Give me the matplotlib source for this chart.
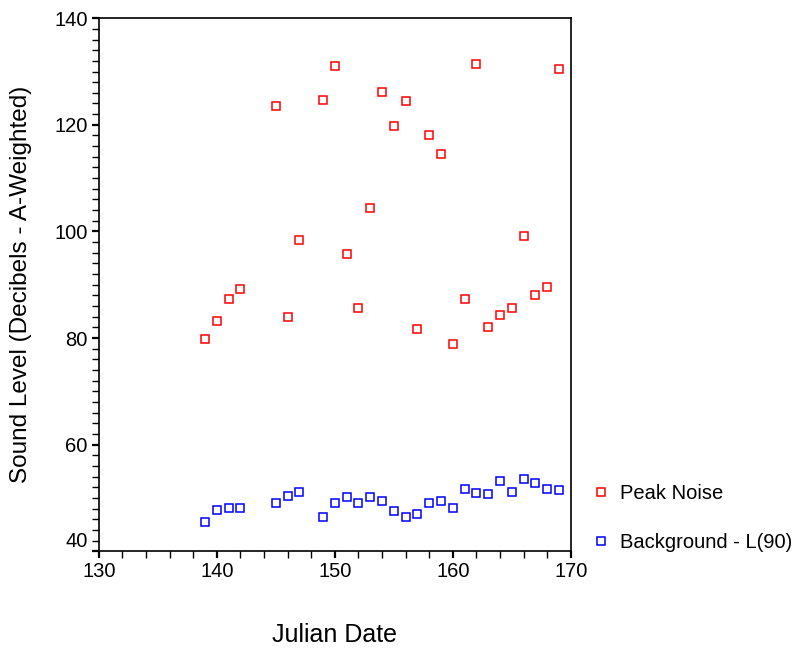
import matplotlib
matplotlib.use("Agg")
import matplotlib.pyplot as plt
from matplotlib.ticker import MultipleLocator, FuncFormatter
from matplotlib.transforms import ScaledTranslation

plt.rcParams['font.family'] = ['Liberation Sans', 'DejaVu Sans']

# Julian date of each measurement
peak_days = [139, 140, 141, 142, 145, 146, 147, 149, 150, 151, 152, 153, 154, 155,
             156, 157, 158, 159, 160, 161, 162, 163, 164, 165, 166, 167, 168, 169]
peak_db = [79.8, 83.2, 87.3, 89.2, 123.5, 84.0, 98.4, 124.6, 131.1, 95.7, 85.6, 104.3, 126.2, 119.7,
           124.4, 81.7, 118.1, 114.5, 78.8, 87.3, 131.4, 82.1, 84.3, 85.6, 99.1, 88.1, 89.5, 130.4]

bg_days = peak_days
bg_db = [45.4, 47.8, 48.1, 48.1, 49.1, 50.4, 51.2, 46.5, 49.1, 50.1, 49.1, 50.1, 49.4, 47.6,
         46.5, 47.0, 49.1, 49.4, 48.1, 51.7, 50.9, 50.7, 53.2, 51.2, 53.5, 52.8, 51.7, 51.4]

y_min, y_max = 40, 140

fig = plt.figure(figsize=(8.04, 6.5), dpi=100)
ax = fig.add_axes([0.123, 0.152, 0.587, 0.820])

mk = dict(linestyle='none', marker='s', markersize=5.5, markerfacecolor='none', markeredgewidth=1.1)
ax.plot(peak_days, peak_db, color='#ff0000', label='Peak Noise', **mk)
ax.plot(bg_days, bg_db, color='#0000ff', label='Background - L(90)', **mk)

ax.set_xlim(130, 170)
ax.set_ylim(y_min, y_max)
ax.xaxis.set_major_locator(MultipleLocator(10))
ax.xaxis.set_minor_locator(MultipleLocator(2))
ax.yaxis.set_major_locator(MultipleLocator(20))
ax.yaxis.set_minor_locator(MultipleLocator(2))
tick_len, tick_pad = 5, 3
ax.tick_params(which='both', direction='out', length=tick_len, width=1, labelsize=14.5,
               color='black', pad=tick_pad)
ax.tick_params(which='major', width=1.6)
for s in ax.spines.values():
    s.set_linewidth(1.2)

# the bottom y label sits a little above its tick in the original, so draw it by hand
ax.yaxis.set_major_formatter(FuncFormatter(lambda v, p: '' if v == y_min else f'{v:.0f}'))
ax.text(0, y_min, f'{y_min}', fontsize=14.5, ha='right', va='center',
        transform=ax.get_yaxis_transform() + ScaledTranslation(-(tick_len + tick_pad) / 72, 7 / 72,
                                                               fig.dpi_scale_trans))

ax.set_xlabel('Julian Date', fontsize=18, labelpad=30)
ax.set_ylabel('Sound Level (Decibels - A-Weighted)', fontsize=17.5, labelpad=16)

fig.legend(loc='upper left', bbox_to_anchor=(0.7126, 0.283), frameon=False, fontsize=14.5,
           handlelength=1.0, handletextpad=0.45, labelspacing=1.5, borderpad=0.4)

fig.savefig('out.png', dpi=100)
